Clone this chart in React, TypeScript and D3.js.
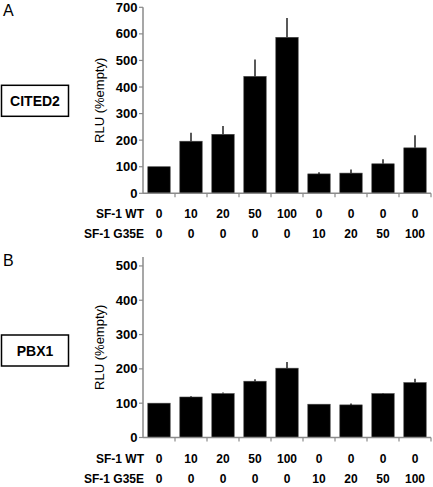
import React from "react";
import * as d3 from "d3";

const conditions = ["c1", "c2", "c3", "c4", "c5", "c6", "c7", "c8", "c9"];
const wtLabels = ["0", "10", "20", "50", "100", "0", "0", "0", "0"];
const g35eLabels = ["0", "0", "0", "0", "0", "10", "20", "50", "100"];

const citedValues = [100, 196, 222, 440, 587, 73, 76, 111, 171];
const citedErrors = [0, 32, 31, 64, 73, 6, 14, 17, 47];
const citedTicks = [0, 100, 200, 300, 400, 500, 600, 700];

const pbxValues = [100, 118, 128, 164, 202, 97, 95, 128, 160];
const pbxErrors = [0, 2, 3, 6, 18, 0, 4, 2, 11];
const pbxTicks = [0, 100, 200, 300, 400, 500];

const FONT = "Liberation Sans, Arial, sans-serif";
const AXIS = "#8a8a8a";

type PanelProps = {
  letter: string;
  gene: string;
  values: number[];
  errors: number[];
  ticks: number[];
  yMax: number;
  yTop: number;
  yBottom: number;
};

function Panel({ letter, gene, values, errors, ticks, yMax, yTop, yBottom }: PanelProps) {
  const x = d3.scaleBand<string>().domain(conditions).range([143, 431]).paddingInner(0.3).paddingOuter(0.15);
  const xb = d3.scaleBand<string>().domain(conditions).range([143, 431]);
  const y = d3.scaleLinear().domain([0, yMax]).range([yBottom, yTop]);
  const row1 = yBottom + 25;
  const row2 = yBottom + 45;
  return (
    <g>
      <text x={3} y={yTop + 9} fontFamily={FONT} fontSize={16}>{letter}</text>
      <rect x={1.5} y={yTop + 78} width={67} height={31} fill="white" stroke="black" strokeWidth={1.5} />
      <text x={35} y={yTop + 99} textAnchor="middle" fontFamily={FONT} fontWeight="bold" fontSize={14}>{gene}</text>
      <text
        transform={`translate(104,${(yTop + yBottom) / 2}) rotate(-90)`}
        textAnchor="middle"
        fontFamily={FONT}
        fontSize={13}
      >RLU (%empty)</text>
      {values.map((v, i) => {
        const c = conditions[i];
        const bx = x(c)!;
        const bw = x.bandwidth();
        return (
          <g key={c}>
            <rect x={bx} y={y(v)} width={bw} height={y(0) - y(v)} fill="black" stroke="#444" strokeWidth={0.6} />
            {errors[i] > 0 && (
              <line x1={bx + bw / 2} x2={bx + bw / 2} y1={y(v)} y2={y(v + errors[i])} stroke="#222" strokeWidth={1.5} />
            )}
          </g>
        );
      })}
      <line x1={143} x2={143} y1={yTop} y2={yBottom} stroke={AXIS} strokeWidth={1.5} />
      <line x1={143} x2={431} y1={yBottom} y2={yBottom} stroke={AXIS} strokeWidth={1.5} />
      {ticks.map((t) => (
        <g key={t}>
          <line x1={139} x2={143} y1={y(t)} y2={y(t)} stroke={AXIS} strokeWidth={1.2} />
          <text x={137.5} y={y(t) + 4.5} textAnchor="end" fontFamily={FONT} fontWeight="bold" fontSize={13}>{t}</text>
        </g>
      ))}
      {conditions.map((c) => (
        <line key={c} x1={xb(c)! + xb.bandwidth()} x2={xb(c)! + xb.bandwidth()} y1={yBottom} y2={yBottom + 4} stroke={AXIS} strokeWidth={1.2} />
      ))}
      <text x={144} y={row1} textAnchor="end" fontFamily={FONT} fontWeight="bold" fontSize={12}>SF-1 WT</text>
      <text x={144} y={row2} textAnchor="end" fontFamily={FONT} fontWeight="bold" fontSize={12}>SF-1 G35E</text>
      {conditions.map((c, i) => (
        <g key={c}>
          <text x={xb(c)! + xb.bandwidth() / 2} y={row1} textAnchor="middle" fontFamily={FONT} fontWeight="bold" fontSize={12}>{wtLabels[i]}</text>
          <text x={xb(c)! + xb.bandwidth() / 2} y={row2} textAnchor="middle" fontFamily={FONT} fontWeight="bold" fontSize={12}>{g35eLabels[i]}</text>
        </g>
      ))}
    </g>
  );
}

export default function App() {
  return (
    <svg width={433} height={487} style={{ position: "absolute", left: 0, top: 0, background: "white" }}>
      <rect width={433} height={487} fill="white" />
      <Panel letter="A" gene="CITED2" values={citedValues} errors={citedErrors} ticks={citedTicks} yMax={700} yTop={7.3} yBottom={193.3} />
      <Panel letter="B" gene="PBX1" values={pbxValues} errors={pbxErrors} ticks={pbxTicks} yMax={526} yTop={257} yBottom={437.5} />
    </svg>
  );
}
